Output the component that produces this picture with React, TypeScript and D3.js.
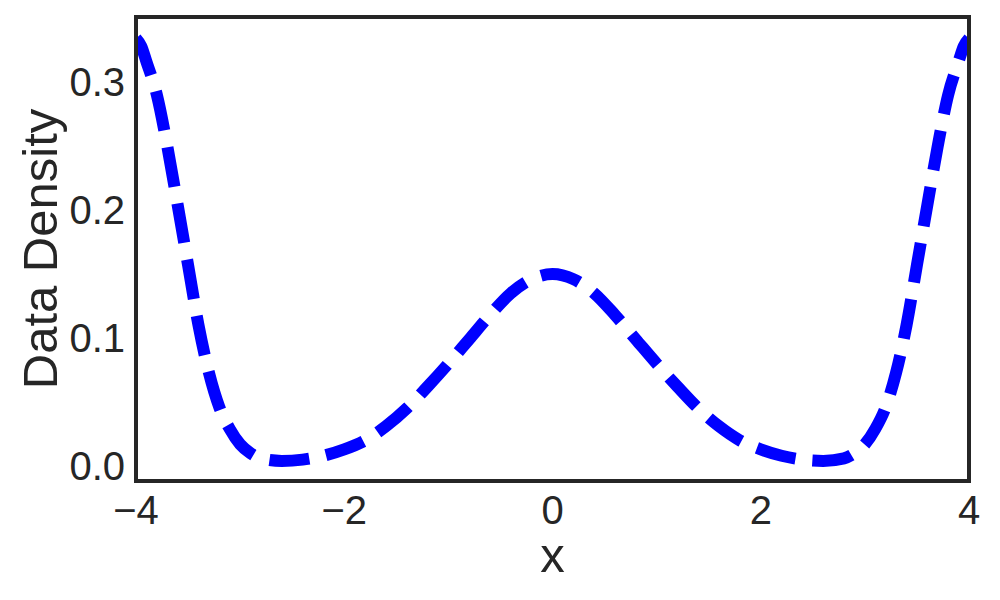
import { useRef, useEffect } from 'react';
import * as d3 from 'd3';

// density curve
const xs = [-4.0, -3.95, -3.9, -3.8, -3.7, -3.6, -3.5, -3.4, -3.3, -3.2, -3.1, -3.0, -2.9, -2.8, -2.6, -2.4, -2.2, -2.0, -1.8, -1.6, -1.4, -1.2, -1.0, -0.8, -0.6, -0.4, -0.2, 0.0,
  0.2, 0.4, 0.6, 0.8, 1.0, 1.2, 1.4, 1.6, 1.8, 2.0, 2.2, 2.4, 2.6, 2.8, 2.9, 3.0, 3.1, 3.2, 3.3, 3.4, 3.5, 3.6, 3.7, 3.8, 3.9, 3.95, 4.0];
const density = [0.334, 0.328, 0.316, 0.290, 0.250, 0.204, 0.157, 0.110, 0.073, 0.046, 0.029, 0.017, 0.010, 0.006, 0.004, 0.005, 0.008, 0.013, 0.020, 0.031, 0.045, 0.062, 0.080, 0.099, 0.118, 0.135, 0.146, 0.150,
  0.146, 0.135, 0.118, 0.099, 0.080, 0.062, 0.045, 0.031, 0.020, 0.013, 0.008, 0.005, 0.004, 0.006, 0.010, 0.017, 0.029, 0.046, 0.073, 0.110, 0.157, 0.204, 0.250, 0.290, 0.316, 0.328, 0.334];
const xTicks = [-4, -2, 0, 2, 4];
const yTicks = [0.0, 0.1, 0.2, 0.3];

export default function App() {
  const svgRef = useRef<SVGSVGElement>(null);
  const width = 1000, height = 600;
  const margin = { top: 17, right: 31, bottom: 119, left: 136 };
  const font = '"Liberation Sans", Arial, sans-serif';
  const ink = '#262626';

  useEffect(() => {
    const svg = d3.select(svgRef.current);
    svg.selectAll('*').remove();

    const x = d3.scaleLinear().domain([-4, 4]).range([margin.left, width - margin.right]);
    const y = d3.scaleLinear().domain([-0.0117, 0.3508]).range([height - margin.bottom, margin.top]);

    svg.append('clipPath').attr('id', 'plot-clip')
      .append('rect')
      .attr('x', x(-4)).attr('y', margin.top)
      .attr('width', x(4) - x(-4)).attr('height', height - margin.bottom - margin.top);

    const pts: [number, number][] = xs.map((v, i) => [v, density[i]]);
    const line = d3.line<[number, number]>()
      .x(d => x(d[0]))
      .y(d => y(d[1]))
      .curve(d3.curveMonotoneX);

    svg.append('path')
      .datum(pts)
      .attr('d', line)
      .attr('clip-path', 'url(#plot-clip)')
      .attr('fill', 'none')
      .attr('stroke', '#0000ff')
      .attr('stroke-width', 12)
      .attr('stroke-dasharray', '40 17');

    // frame
    svg.append('rect')
      .attr('x', x(-4)).attr('y', margin.top)
      .attr('width', x(4) - x(-4)).attr('height', height - margin.bottom - margin.top)
      .attr('fill', 'none')
      .attr('stroke', ink)
      .attr('stroke-width', 4);

    const fmtX = (d: number) => (d < 0 ? '\u2212' + Math.abs(d) : String(d));

    svg.append('g').selectAll('text')
      .data(xTicks)
      .join('text')
      .attr('x', d => x(d))
      .attr('y', 524)
      .attr('text-anchor', 'middle')
      .attr('font-family', font)
      .attr('font-size', 40)
      .attr('fill', ink)
      .text(d => fmtX(d));

    svg.append('g').selectAll('text')
      .data(yTicks)
      .join('text')
      .attr('x', 125)
      .attr('y', d => y(d))
      .attr('dy', '0.36em')
      .attr('text-anchor', 'end')
      .attr('font-family', font)
      .attr('font-size', 40)
      .attr('fill', ink)
      .text(d => d3.format('.1f')(d));

    svg.append('text')
      .attr('x', (x(-4) + x(4)) / 2)
      .attr('y', 572)
      .attr('text-anchor', 'middle')
      .attr('font-family', font)
      .attr('font-size', 49)
      .attr('fill', ink)
      .text('x');

    svg.append('text')
      .attr('transform', 'translate(57,249) rotate(-90)')
      .attr('text-anchor', 'middle')
      .attr('font-family', font)
      .attr('font-size', 49)
      .attr('fill', ink)
      .text('Data Density');
  }, []);

  return (
    <div style={{ position: 'fixed', top: 0, left: 0, background: '#fff' }}>
      <svg ref={svgRef} width={width} height={height} style={{ display: 'block' }} />
    </div>
  );
}
